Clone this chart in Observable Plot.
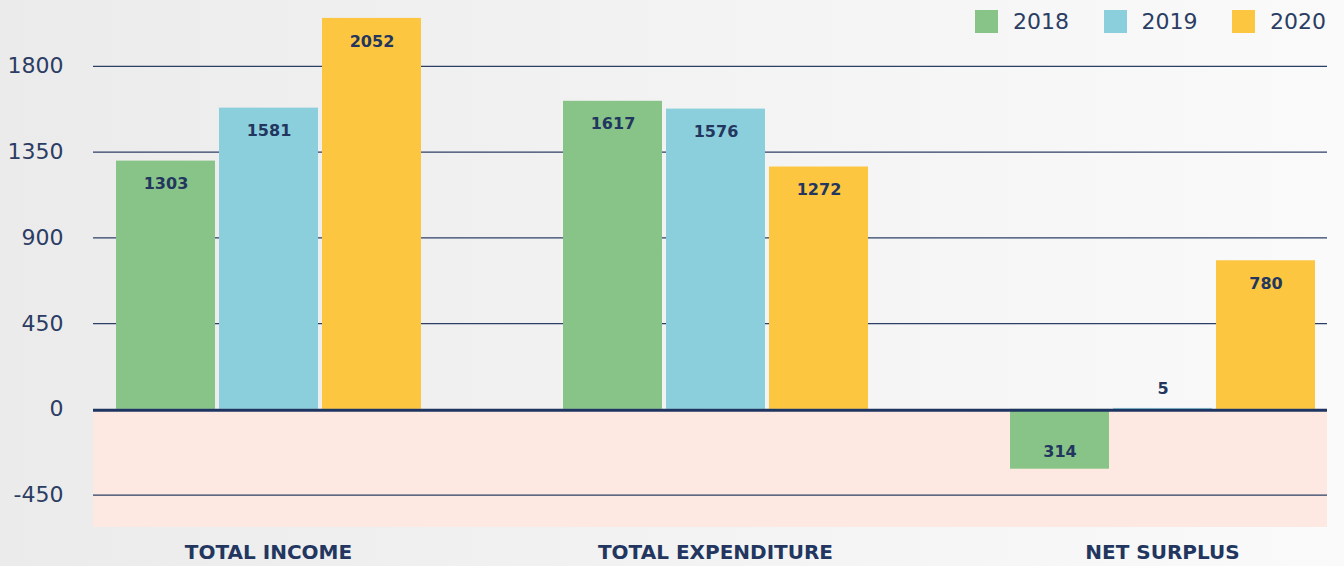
<!DOCTYPE html>
<html><head><meta charset="utf-8">
<script src="https://cdn.jsdelivr.net/npm/d3@7"></script>
<script src="https://cdn.jsdelivr.net/npm/@observablehq/plot@0.6"></script>
<style>
html,body{margin:0;padding:0;}
body{width:1344px;height:566px;background:linear-gradient(to right,#ebebeb,#fafafa);overflow:hidden;position:relative;font-family:"DejaVu Sans",sans-serif;color:#2b3d63;}
.layer{position:absolute;left:0;top:0;}
.layer svg{display:block;}
#legend{position:absolute;left:975px;top:10px;display:flex;}
.item{display:flex;align-items:center;width:128.5px;height:23px;}
.sw{width:23px;height:23px;margin-right:15px;}
.lab{font-size:22px;line-height:23px;}
</style></head><body>
<div id="bg" class="layer"></div>
<div id="bars" class="layer"></div>
<div id="zero" class="layer"></div>
<div id="legend"></div>
<script>
const categories = ["TOTAL INCOME", "TOTAL EXPENDITURE", "NET SURPLUS"];
const years = ["2018", "2019", "2020"];
const values2018 = [1303, 1617, -314];
const values2019 = [1581, 1576, 5];
const values2020 = [2052, 1272, 780];
const yTicks = [-450, 0, 450, 900, 1350, 1800];
const yDomain = [-620, 2146];
const colors = ["#88c487", "#8ccfdc", "#fdc641"];
const navy = "#22365f";

const series = [values2018, values2019, values2020];
const data = [];
categories.forEach((c, i) => series.forEach((arr, j) => data.push({category: c, year: years[j], value: arr[i]})));

const base = {
  width: 1344, height: 566,
  marginTop: 0, marginBottom: 39, marginLeft: 93, marginRight: 17,
  style: {background: "transparent", color: navy, fontFamily: "DejaVu Sans, sans-serif"},
  y: {domain: yDomain, axis: null}
};

// Layer 1: negative band, gridlines, y tick labels
const bg = Plot.plot({
  ...base,
  marks: [
    Plot.rect([0], {y1: yDomain[0], y2: 0, fill: "#fde9e2"}),
    Plot.ruleY(yTicks.filter(d => d !== 0), {stroke: "#2d3f66", strokeWidth: 1.3}),
    Plot.text(yTicks, {y: d => d, text: d => String(d), frameAnchor: "left", textAnchor: "end", dx: -30, fontSize: 22, fill: "#2b3d63"})
  ]
});
document.getElementById("bg").appendChild(bg);

// Layer 2: grouped bars with value labels
const bars = Plot.plot({
  ...base,
  fx: {domain: categories, paddingInner: 0.316, paddingOuter: 0.037, align: 0.636, label: null, axis: null},
  x: {domain: years, paddingInner: 0.0435, paddingOuter: 0, axis: null},
  color: {domain: years, range: colors},
  marks: [
    Plot.barY(data, {fx: "category", x: "year", y: "value", fill: "year"}),
    Plot.text(data.filter(d => d.value >= 100), {fx: "category", x: "year", y: "value", text: d => String(Math.abs(d.value)), dy: 23, fontSize: 16, fontWeight: "bold", fill: navy}),
    Plot.text(data.filter(d => d.value >= 0 && d.value < 100), {fx: "category", x: "year", y: "value", text: d => String(Math.abs(d.value)), dy: -20, fontSize: 16, fontWeight: "bold", fill: navy}),
    Plot.text(data.filter(d => d.value < 0), {fx: "category", x: "year", y: "value", text: d => String(Math.abs(d.value)), dy: -17, fontSize: 16, fontWeight: "bold", fill: navy}),
    Plot.axisFx({anchor: "bottom", tickSize: 0, tickPadding: 17, fontSize: 20, fontWeight: "bold", label: null, color: navy})
  ]
});
document.getElementById("bars").appendChild(bars);

// Layer 3: zero baseline on top of bars
const zero = Plot.plot({
  ...base,
  marks: [Plot.ruleY([0], {stroke: "#1e3461", strokeWidth: 3, dy: 0.8})]
});
document.getElementById("zero").appendChild(zero);

const legend = document.getElementById("legend");
years.forEach((y, i) => {
  const item = document.createElement("div");
  item.className = "item";
  item.innerHTML = `<div class="sw" style="background:${colors[i]}"></div><span class="lab">${y}</span>`;
  legend.appendChild(item);
});
</script>
</body></html>
